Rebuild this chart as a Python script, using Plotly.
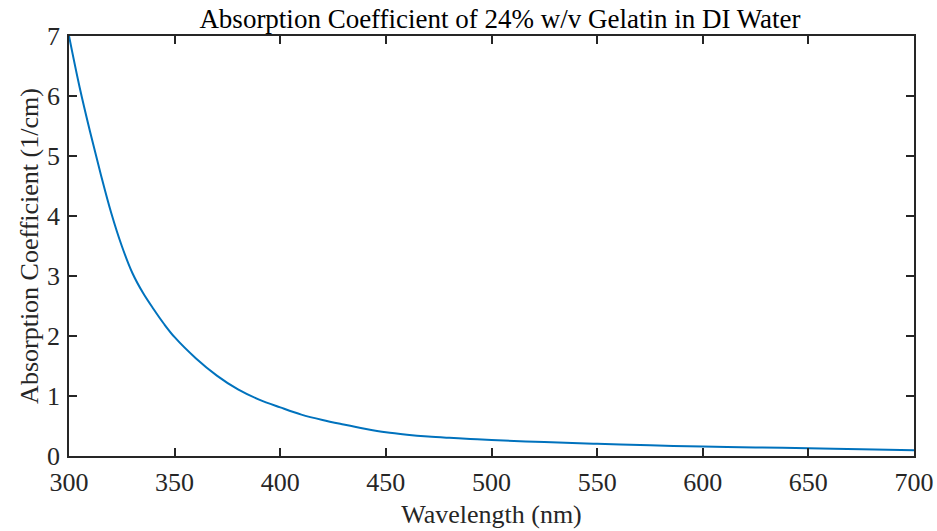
import plotly.graph_objects as go

wavelength = [300, 305, 310, 315, 320, 325, 330, 335, 340, 345, 350, 360, 370, 380, 390,
              400, 410, 420, 430, 440, 450, 460, 470, 480, 490, 500, 525, 550, 575, 600, 625, 650, 675, 700]
absorption = [7.0, 6.15, 5.4, 4.7, 4.05, 3.5, 3.05, 2.72, 2.45, 2.2, 1.98, 1.63, 1.34, 1.11, 0.94,
              0.81, 0.69, 0.6, 0.525, 0.455, 0.395, 0.355, 0.325, 0.303, 0.284, 0.267, 0.232, 0.203, 0.178, 0.157, 0.142, 0.13, 0.113, 0.097]
x_ticks = [300, 350, 400, 450, 500, 550, 600, 650, 700]
y_ticks = [0, 1, 2, 3, 4, 5, 6, 7]

FONT = "Liberation Serif, Times New Roman, serif"
AX = "#262626"
FS = 26

fig = go.Figure()
fig.add_trace(go.Scatter(x=wavelength, y=absorption, mode="lines",
                         line=dict(color="#0072BD", width=2, shape="spline", smoothing=1),
                         showlegend=False))

axis_common = dict(showline=True, linecolor=AX, linewidth=1.5, mirror="ticks",
                   ticks="inside", ticklen=8, tickwidth=1.5, tickcolor=AX,
                   showgrid=False, zeroline=False, automargin=False,
                   tickfont=dict(family=FONT, size=FS, color=AX))

fig.update_layout(
    width=937, height=531,
    margin=dict(l=69, r=23, t=36, b=75, autoexpand=False),
    paper_bgcolor="white", plot_bgcolor="white",
    title=dict(text="Absorption Coefficient of 24% w/v Gelatin in DI Water",
               font=dict(family=FONT, size=27, color="black"),
               x=0.5336, xanchor="center", y=0.983, yanchor="top"),
    xaxis=dict(range=[300, 700], tickvals=x_ticks, ticktext=[str(v) for v in x_ticks],
               ticklabelstandoff=2,
               title=dict(text="Wavelength (nm)", font=dict(family=FONT, size=FS, color=AX), standoff=9),
               **axis_common),
    yaxis=dict(range=[0, 7], tickvals=y_ticks, ticktext=[str(v) for v in y_ticks],
               ticklabelstandoff=2,
               title=dict(text="Absorption Coefficient (1/cm)", font=dict(family=FONT, size=FS, color=AX), standoff=1),
               **axis_common),
)

fig.write_html("out.html", config={"displayModeBar": False},
               post_script="document.body.style.margin='0';document.body.style.overflow='hidden';")
